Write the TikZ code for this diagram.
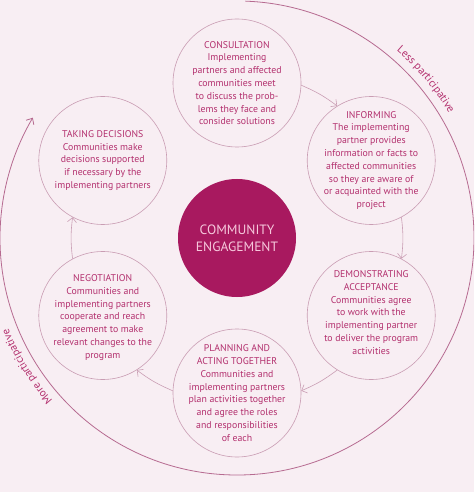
\documentclass[tikz,border=0pt]{standalone}
\usepackage{fontspec}
\setmainfont{PT Sans}
\usetikzlibrary{arrows.meta}
\usetikzlibrary{decorations.text}

\definecolor{bgpink}{HTML}{F8EEF3}
\definecolor{engmag}{HTML}{B3306E}
\definecolor{engdark}{HTML}{A8195F}
\definecolor{hubtext}{HTML}{F6C8DC}
\definecolor{ringpink}{HTML}{C99DB3}
\definecolor{outerpink}{HTML}{B66A90}

\newcommand\sidefont{\fontsize{11}{13}\selectfont\color{engmag}}

\tikzset{
  stage/.style={circle, draw=ringpink, line width=0.6pt, minimum size=128pt, inner sep=0pt},
  stagetext/.style={text=engmag, align=center, font=\fontsize{9.8}{12.8}\selectfont},
  hub/.style={circle, fill=engdark, minimum size=118pt, inner sep=0pt, text=hubtext,
    align=center, font=\fontsize{13.5}{17}\selectfont},
  flow/.style={draw=ringpink, line width=0.6pt, -{Straight Barb[length=4.5pt,width=9pt]}},
  ring/.style={draw=outerpink, line width=0.8pt, -{Straight Barb[length=5pt,width=9pt]}}
}

\begin{document}
\begin{tikzpicture}[x=1pt, y=1pt]
        \fill[bgpink] (-237, -254) rectangle (237, 238);
        \clip (-237, -254) rectangle (237, 238);

        % centre
        \node[hub] (hub) at (0, 0) {COMMUNITY\\ENGAGEMENT};

        % the six stages
        \node[stage] (cons) at (90:155) {};
        \node[stage] (info) at (30:155) {};
        \node[stage] (demo) at (-30:155) {};
        \node[stage] (plan) at (-90:155) {};
        \node[stage] (nego) at (-150:155) {};
        \node[stage] (deci) at (150:155) {};

        \node[stagetext] at (cons) {CONSULTATION\\Implementing\\partners and affected\\communities meet\\to discuss the prob-\\lems they face and\\consider solutions};
        \node[stagetext] at (info) {INFORMING\\The implementing\\partner provides\\information or facts to\\affected communities\\so they are aware of\\or acquainted with the\\project};
        \node[stagetext] at ([yshift=3]demo) {DEMONSTRATING\\ACCEPTANCE\\Communities agree\\to work with the\\implementing partner\\to deliver the program\\activities};
        \node[stagetext] at (plan) {PLANNING AND\\ACTING TOGETHER\\Communities and\\implementing partners\\plan activities together\\and agree the roles\\and responsibilities\\of each};
        \node[stagetext] at ([yshift=-2]nego) {NEGOTIATION\\Communities and\\implementing partners\\cooperate and reach\\agreement to make\\relevant changes to the\\program};
        \node[stagetext] at (deci) {TAKING DECISIONS\\Communities make\\decisions supported\\if necessary by the\\implementing partners};

        % arrows between stages
        \foreach \a/\b/\t [evaluate=\t as \o using int(\t-92), evaluate=\t as \i using int(\t+32)]
            in {cons/info/90, info/demo/30, demo/plan/-30, plan/nego/-90, nego/deci/-150}
            \draw[flow] (\a.\o) to[bend left=7] (\b.\i);

        % outer scale
        \draw[ring] (88:237) arc[start angle=88, end angle=-210.5, radius=237];
        \path[decorate, decoration={text along path, text align=center,
            text={|\sidefont|Less participative}}]
            (53:246) arc[start angle=53, end angle=27, radius=246];
        \path[decorate, decoration={text along path, text align=center,
            text={|\sidefont|More participative}}]
            (224:246) arc[start angle=224, end angle=199, radius=246];
\end{tikzpicture}
\end{document}
